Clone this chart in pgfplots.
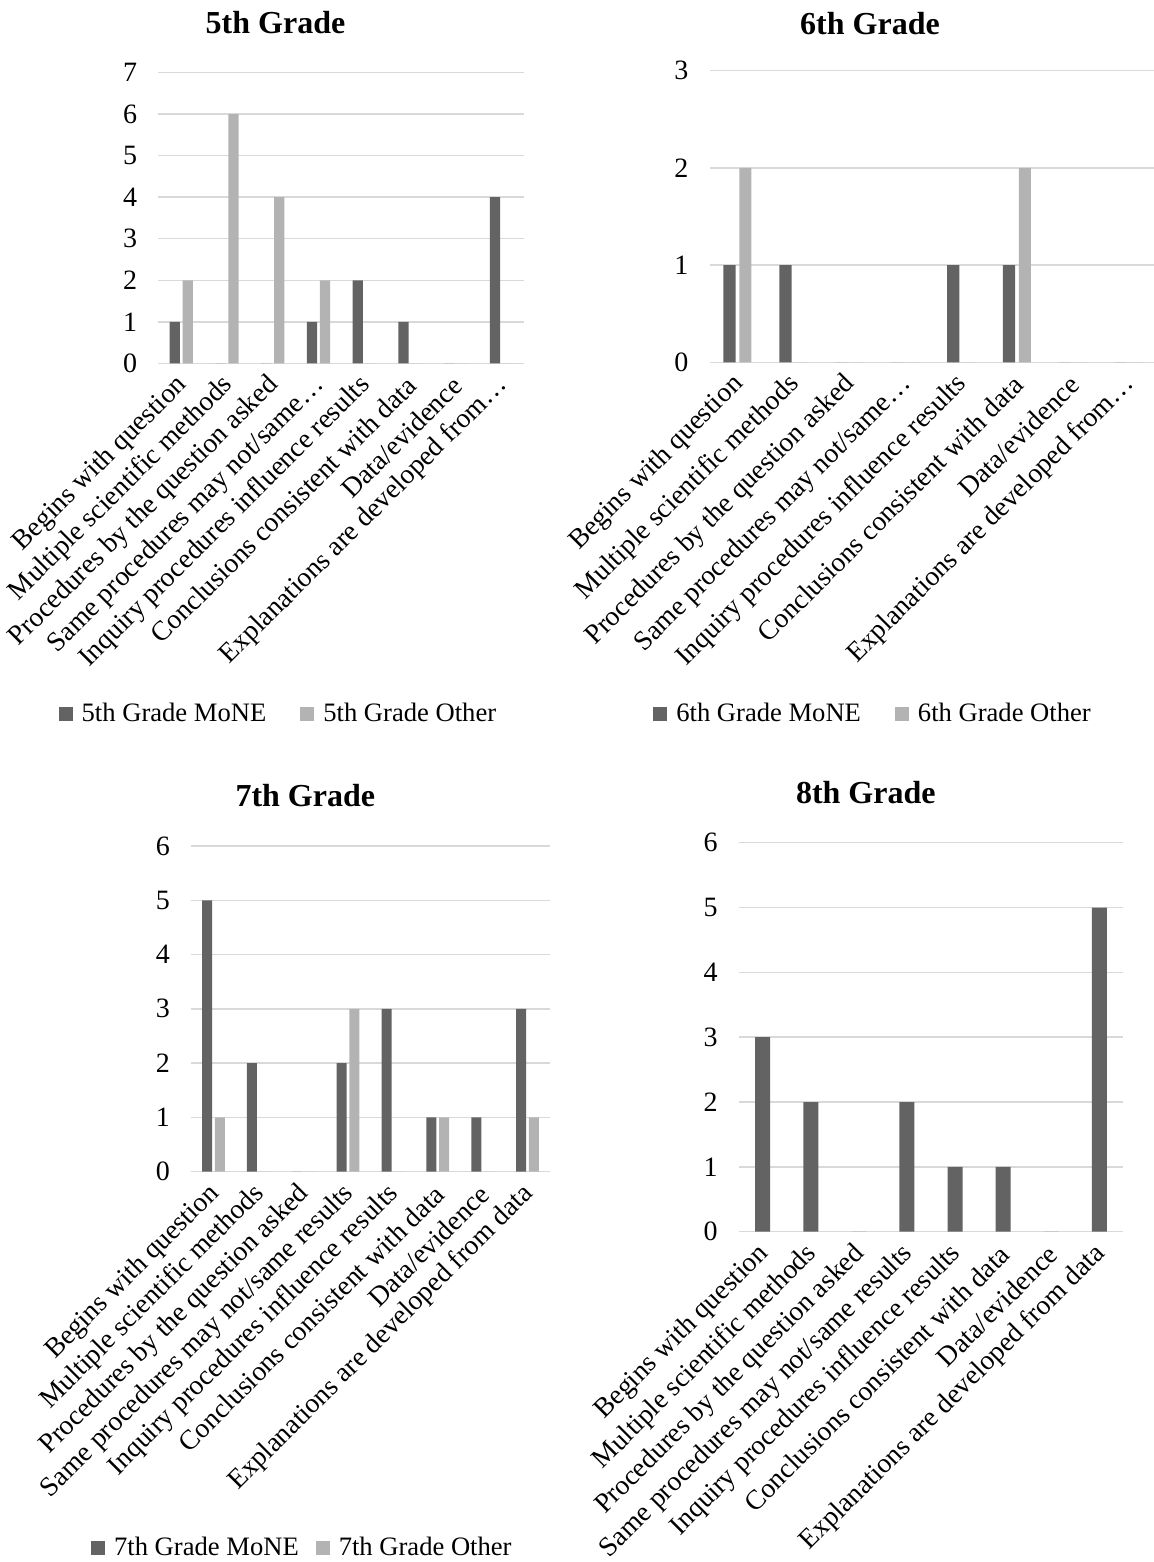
\documentclass[border=0pt]{standalone}
\usepackage{fontspec}
\setmainfont{Liberation Serif}
\usepackage{pgfplots}
\pgfplotsset{compat=1.18}
\definecolor{moneC}{RGB}{99,99,99}
\definecolor{otherC}{RGB}{179,179,179}
\definecolor{gridC}{RGB}{217,217,217}
\pgfplotsset{
 gchart/.style={
  scale only axis, anchor=south west,
  ybar, ymin=0, xmin=-0.5, xmax=7.5, ytick distance=1,
  xtick={0,...,7}, enlargelimits=false,
  ymajorgrids, major grid style={draw=gridC, line width=0.75pt},
  axis line style={draw=none}, major tick length=0pt,
  yticklabel style={font=\fontsize{14}{16}\selectfont, anchor=east, xshift=-7pt},
  xticklabel style={font=\fontsize{13.8}{16}\selectfont, yshift=-9pt, xshift=1pt, rotate=45, anchor=east, inner sep=0pt},
  /pgf/number format/assume math mode=true,
  legend image code/.code={\fill[##1] (0pt,-3.5pt) rectangle (7pt,3.5pt);},
  legend style={draw=none, fill=none, legend columns=2, font=\fontsize{13.3}{15}\selectfont,
    /tikz/every odd column/.append style={column sep=2.5pt},
    /tikz/every even column/.append style={column sep=15pt}, anchor=center},
 },
}
\begin{document}
\begin{tikzpicture}[x=1pt,y=1pt]
\useasboundingbox (0,0) rectangle (576.5,781);
\node[font=\bfseries\fontsize{16}{19}\selectfont] at (137.75,769.5) {5th Grade};
\node[font=\bfseries\fontsize{16}{19}\selectfont] at (435,769.3) {6th Grade};
\node[font=\bfseries\fontsize{16}{19}\selectfont] at (152.65,383) {7th Grade};
\node[font=\bfseries\fontsize{16}{19}\selectfont] at (432.9,384.5) {8th Grade};

\begin{axis}[gchart, at={(79.15pt,599.35pt)}, width=183pt, height=145.3pt, ymax=7, bar width=5.1pt,
  xticklabels={Begins with question, Multiple scientific methods, Procedures by the question asked, Same procedures may not/same…, Inquiry procedures influence results, Conclusions consistent with data, Data/evidence, Explanations are developed from…},
  legend style={at={(0.331,-1.207)}}]
\addplot[fill=moneC, draw=none, bar shift=-3.25pt] coordinates {(0,1) (1,0) (2,0) (3,1) (4,2) (5,1) (6,0) (7,4)};
\addplot[fill=otherC, draw=none, bar shift=3.25pt] coordinates {(0,2) (1,6) (2,4) (3,2) (4,0) (5,0) (6,0) (7,0)};
\legend{5th Grade MoNE, 5th Grade Other}
\end{axis}

\begin{axis}[gchart, at={(354.75pt,599.85pt)}, width=223.6pt, height=145.8pt, ymax=3, bar width=6.1pt,
  xticklabels={Begins with question, Multiple scientific methods, Procedures by the question asked, Same procedures may not/same…, Inquiry procedures influence results, Conclusions consistent with data, Data/evidence, Explanations are developed from…},
  legend style={at={(0.368,-1.206)}}]
\addplot[fill=moneC, draw=none, bar shift=-3.95pt] coordinates {(0,1) (1,1) (2,0) (3,0) (4,1) (5,1) (6,0) (7,0)};
\addplot[fill=otherC, draw=none, bar shift=3.95pt] coordinates {(0,2) (1,0) (2,0) (3,0) (4,0) (5,2) (6,0) (7,0)};
\legend{6th Grade MoNE, 6th Grade Other}
\end{axis}

\begin{axis}[gchart, at={(95.5pt,195.15pt)}, width=179.5pt, height=162.85pt, ymax=6, bar width=5pt,
  xticklabels={Begins with question, Multiple scientific methods, Procedures by the question asked, Same procedures may not/same results, Inquiry procedures influence results, Conclusions consistent with data, Data/evidence, Explanations are developed from data},
  legend style={at={(0.313,-1.155)}, /tikz/every even column/.append style={column sep=6.5pt}}]
\addplot[fill=moneC, draw=none, bar shift=-3.2pt] coordinates {(0,5) (1,2) (2,0) (3,2) (4,3) (5,1) (6,1) (7,3)};
\addplot[fill=otherC, draw=none, bar shift=3.2pt] coordinates {(0,1) (1,0) (2,0) (3,3) (4,0) (5,1) (6,0) (7,1)};
\legend{7th Grade MoNE, 7th Grade Other}
\end{axis}

\begin{axis}[gchart, at={(369.35pt,165.15pt)}, width=192.3pt, height=194.5pt, ymax=6, bar width=7.5pt,
  xticklabels={Begins with question, Multiple scientific methods, Procedures by the question asked, Same procedures may not/same results, Inquiry procedures influence results, Conclusions consistent with data, Data/evidence, Explanations are developed from data}]
\addplot[fill=moneC, draw=none, bar shift=0pt] coordinates {(0,3) (1,2) (2,0) (3,2) (4,1) (5,1) (6,0) (7,5)};
\end{axis}
\end{tikzpicture}
\end{document}
